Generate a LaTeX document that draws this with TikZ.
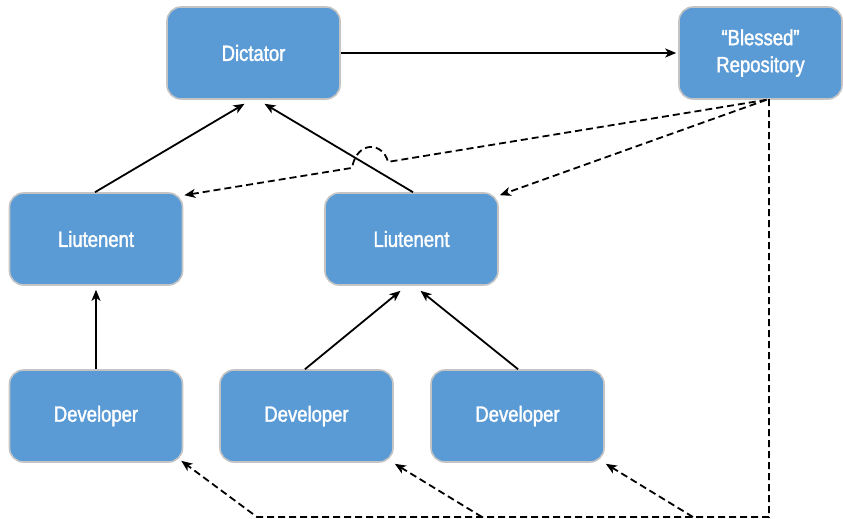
\documentclass[tikz,border=0pt]{standalone}
\usepackage{fontspec}
\setmainfont{Liberation Sans}[FakeStretch=0.84,FakeBold=1.6]
\usetikzlibrary{arrows.meta,calc}
\definecolor{boxblue}{RGB}{91,155,213}
\definecolor{boxedge}{RGB}{196,196,196}
\begin{document}
\begin{tikzpicture}[x=1pt,y=-1pt,
  role/.style={draw=boxedge,line width=1.6pt,fill=boxblue,rounded corners=14pt,
    minimum width=173pt,minimum height=92pt,inner sep=0pt,align=center,
    text=white,font=\fontsize{22}{27}\selectfont},
  push/.style={line width=1.8pt,-{Stealth[length=11pt,width=9pt,inset=3pt]}},
  pull/.style={push,dash pattern=on 7pt off 4pt}]
\useasboundingbox (0,0) rectangle (843,519);

% nodes
\node[role] (dict) at (253.5,53) {Dictator};
\node[role,minimum width=163pt] (rep) at (760.5,53) {“Blessed”\\Repository};
\node[role] (lt1) at (96,239) {Liutenent};
\node[role] (lt2) at (411.5,239) {Liutenent};
\node[role] (dev1) at (96,416) {Developer};
\node[role] (dev2) at (306.5,416) {Developer};
\node[role] (dev3) at (517.5,416) {Developer};

% pushes up the hierarchy
\draw[push,shorten >=2pt] (dict.east) -- (rep.west);
\draw[push] ([xshift=-1pt]lt1.north) -- ([xshift=-9pt,yshift=-4pt]dict.south);
\draw[push] ([xshift=1.5pt]lt2.north) -- ([xshift=11pt,yshift=-4pt]dict.south);
\draw[push] (dev1.north) -- ([yshift=-4pt]lt1.south);
\draw[push] ([xshift=-1.5pt]dev2.north) -- ([xshift=-11pt,yshift=-5pt]lt2.south);
\draw[push] ([xshift=0.5pt]dev3.north) -- ([xshift=9pt,yshift=-5pt]lt2.south);

% pulls from the blessed repository
\coordinate (src) at ([xshift=6pt]rep.south);
\coordinate (hopR) at (388,161.9);
\coordinate (hopL) at (352,167.9);
\draw[pull] (src) -- (hopR) .. controls (383,142) and (357,140) .. (hopL)
  -- ([xshift=1pt,yshift=-3pt]lt1.north east);
\draw[pull] (src) -- ([xshift=1pt,yshift=-3pt]lt2.north east);

\coordinate (down) at (769,99);
\coordinate (corner) at (769,517);
\coordinate (b1) at (257,517);
\coordinate (b2) at (482,517);
\coordinate (b3) at (693,517);
\draw[pull] (down) -- (corner) -- (b1) -- ([xshift=-2pt,yshift=2pt]dev1.south east);
\draw[pull] (b2) -- ([xshift=1pt,yshift=-1pt]dev2.south east);
\draw[pull] (b3) -- ([xshift=1pt,yshift=-1pt]dev3.south east);
\end{tikzpicture}
\end{document}
